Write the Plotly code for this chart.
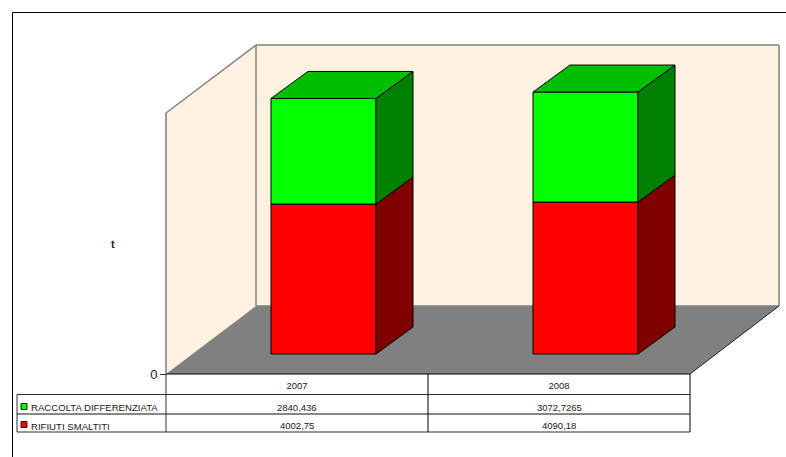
import plotly.graph_objects as go

# ---- data
years = ["2007", "2008"]
raccolta_heights = [2840, 2957]      # drawn heights of the green boxes
rifiuti_heights = [4030, 4085]       # drawn heights of the red boxes
raccolta_labels = ["2840,436", "3072,7265"]   # data table text
rifiuti_labels = ["4002,75", "4090,18"]       # data table text
name_raccolta = "RACCOLTA DIFFERENZIATA"
name_rifiuti = "RIFIUTI SMALTITI"
axis_title = "t"

W, H = 786, 457
X0, CAT = 297.0, 262.0      # px of first category centre, px per category
Y0, SCALE = 374.0, 0.0372   # px of value zero, px per unit


def dx(px):
    return (px - X0) / CAT


def dy(py):
    return (Y0 - py) / SCALE


def fx(px):
    return px / W


def fy(py):
    return 1 - py / H


pos = list(range(len(years)))
BAR_W = 105 / CAT
BAR_SHIFT = 26.5 / CAT
BAR_BASE = 20 / SCALE
DEP_X = 37 / CAT
DEP_Y = 27 / SCALE

WALL = "#FCF2DF"
GREY = "#808080"

fig = go.Figure()

bar_x = [p + BAR_SHIFT for p in pos]
base_red = [BAR_BASE for _ in pos]
base_green = [BAR_BASE + v for v in rifiuti_heights]
fig.add_bar(x=bar_x, y=rifiuti_heights, base=base_red, width=BAR_W, name=name_rifiuti,
            marker=dict(color="#FF0000", line=dict(color="black", width=1)))
fig.add_bar(x=bar_x, y=raccolta_heights, base=base_green, width=BAR_W, name=name_raccolta,
            marker=dict(color="#00FF00", line=dict(color="black", width=1)))


def face(xs, ys, color):
    fig.add_scatter(x=xs, y=ys, mode="lines", fill="toself", fillcolor=color,
                    line=dict(color="black", width=1), hoverinfo="skip", showlegend=False)


for i, c in enumerate(bar_x):
    r = c + BAR_W / 2
    l = c - BAR_W / 2
    b0 = base_red[i]
    b1 = b0 + rifiuti_heights[i]
    b2 = b1 + raccolta_heights[i]
    face([r, r + DEP_X, r + DEP_X, r, r], [b0, b0 + DEP_Y, b1 + DEP_Y, b1, b0], "#800000")
    face([r, r + DEP_X, r + DEP_X, r, r], [b1, b1 + DEP_Y, b2 + DEP_Y, b2, b1], "#008000")
    face([l, l + DEP_X, r + DEP_X, r, l], [b2, b2 + DEP_Y, b2 + DEP_Y, b2, b2], "#00BF00")


def poly(points, fill, line="rgba(0,0,0,0)", width=1):
    path = "M" + " L".join(f"{dx(a):.5f},{dy(b):.3f}" for a, b in points) + " Z"
    return dict(type="path", path=path, xref="x", yref="y", layer="below",
                fillcolor=fill, line=dict(color=line, width=width))


def wall_line(x1, y1, x2, y2):
    return dict(type="line", xref="x", yref="y", x0=dx(x1), y0=dy(y1), x1=dx(x2), y1=dy(y2),
                line=dict(color=GREY, width=1.5), layer="below")


def seg(x1, y1, x2, y2, color="black", width=1):
    return dict(type="line", xref="paper", yref="paper", x0=fx(x1), y0=fy(y1), x1=fx(x2), y1=fy(y2),
                line=dict(color=color, width=width), layer="above")


shapes = [
    poly([(166, 113), (256, 45), (256, 306), (166, 374)], WALL),
    poly([(256, 45), (779, 45), (779, 306), (256, 306)], WALL),
    poly([(166, 374), (256, 306), (779, 306), (690, 374)], GREY),
    # walls outline (behind the bars)
    wall_line(166, 113, 256, 45), wall_line(256, 45, 779, 45),
    wall_line(256, 45, 256, 306), wall_line(779, 45, 779, 306),
    wall_line(256, 306, 779, 306),
    seg(166, 113, 166, 374, "#404040"), seg(690, 374, 779, 306, "#202020"),
    # table
    seg(166, 374, 690, 374), seg(17, 394.5, 690, 394.5, "#303030"), seg(17, 414, 690, 414, "#101010"),
    seg(17, 432, 690, 432, "#303030"),
    seg(17, 394.5, 17, 432, "#303030"), seg(166, 374, 166, 432, "#303030"),
    seg(428, 374, 428, 432), seg(690, 374, 690, 432),
    # chart frame
    seg(12.5, 12.5, 786, 12.5), seg(12.5, 12.5, 12.5, 457),
]

# legend keys in the table
for cy, col in [(406.5, "#00FF00"), (424.5, "#FF0000")]:
    shapes.append(dict(type="rect", xref="paper", yref="paper", layer="above",
                       x0=fx(21), x1=fx(27), y0=fy(cy - 3), y1=fy(cy + 3),
                       fillcolor=col, line=dict(color="#202020", width=1)))

FONT = "Liberation Sans, Arial, sans-serif"
ann = []


def text(x, y, s, size=9, anchor="center", bold=False):
    ann.append(dict(xref="paper", yref="paper", x=fx(x), y=fy(y), text=f"<b>{s}</b>" if bold else s,
                    showarrow=False, xanchor=anchor, yanchor="middle",
                    font=dict(family=FONT, size=size, color="#202020"), borderpad=0, borderwidth=0))


text(113, 244, axis_title, 11, bold=True)
text(31, 407.5, name_raccolta, 9.6, "left")
text(31, 426, name_rifiuti, 9.6, "left")
for i in pos:
    cx = X0 + CAT * i
    text(cx, 407, raccolta_labels[i], 9.5)
    text(cx, 425, rifiuti_labels[i], 9.5)

fig.update_layout(
    width=W, height=H, autosize=False, margin=dict(l=0, r=0, t=0, b=0),
    paper_bgcolor="white", plot_bgcolor="white", showlegend=False, barmode="overlay",
    shapes=shapes, annotations=ann,
    xaxis=dict(range=[dx(0), dx(W)], domain=[0, 1], anchor="free", position=fy(Y0), showgrid=False,
               zeroline=False, showline=False, tickmode="array", tickvals=pos, ticktext=years,
               ticks="outside", ticklen=3, tickcolor="rgba(0,0,0,0)",
               tickfont=dict(family=FONT, size=9.5, color="#202020")),
    yaxis=dict(range=[dy(H), dy(0)], domain=[0, 1], anchor="free", position=fx(166), showgrid=False,
               zeroline=False, showline=False, tickmode="array", tickvals=[0], ticktext=["0"],
               ticks="outside", ticklen=6, tickcolor="#303030",
               tickfont=dict(family=FONT, size=13, color="#202020")),
)

fig.write_html("out.html", post_script="document.body.style.margin='0';document.documentElement.style.overflow='hidden';",
               config=dict(displayModeBar=False))
